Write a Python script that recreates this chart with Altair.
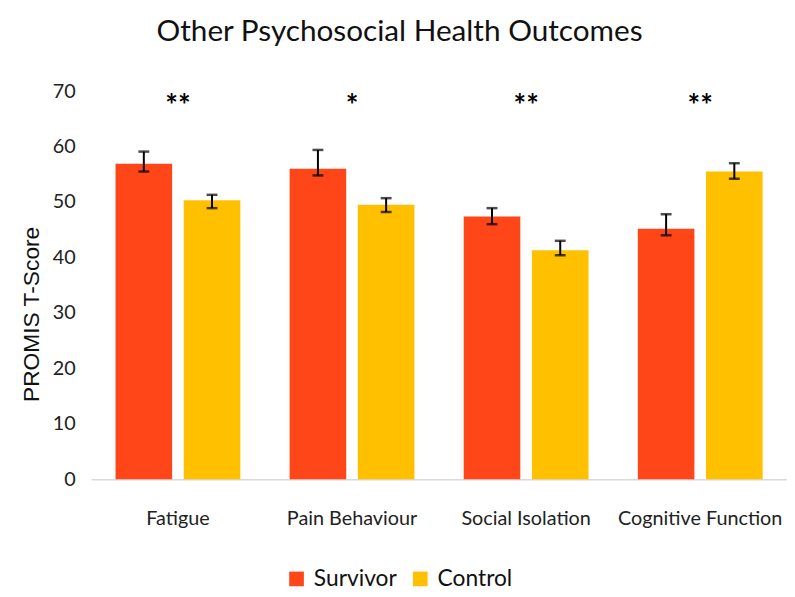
import altair as alt
import pandas as pd

categories = ["Fatigue", "Pain Behaviour", "Social Isolation", "Cognitive Function"]
groups = ["Survivor", "Control"]
survivor = [56.9, 56.0, 47.4, 45.2]
survivor_lo = [55.5, 54.8, 46.0, 44.0]
survivor_hi = [59.1, 59.4, 48.9, 47.8]
control = [50.3, 49.5, 41.3, 55.5]
control_lo = [48.9, 48.2, 40.4, 54.2]
control_hi = [51.3, 50.7, 43.0, 57.0]
significance = ["**", "*", "**", "**"]
sig_y = [67.1, 67.1, 67.1, 67.1]
colors = ["#FF4619", "#FFC000"]

rows = []
for i, c in enumerate(categories):
    rows.append({"cat": c, "group": "Survivor", "value": survivor[i], "lo": survivor_lo[i], "hi": survivor_hi[i]})
    rows.append({"cat": c, "group": "Control", "value": control[i], "lo": control_lo[i], "hi": control_hi[i]})
df = pd.DataFrame(rows)
sig_df = pd.DataFrame({"cat": categories, "sig": significance, "y": sig_y})

FONT = "Lato"

x_enc = alt.X(
    "cat:N",
    sort=categories,
    scale=alt.Scale(paddingInner=0.283, paddingOuter=0.14),
    axis=alt.Axis(
        title=None, labelAngle=0, labelFontSize=20, labelFont=FONT, labelColor="#222222",
        labelPadding=30, ticks=False, domain=True, domainColor="#d9d9d9", domainWidth=1.5,
    ),
)
xoff = alt.XOffset("group:N", sort=groups, scale=alt.Scale(paddingInner=0.17))
y_scale = alt.Scale(domain=[0, 70], nice=False)
y_axis = alt.Axis(
    title="PROMIS T-Score", titleFont="Liberation Sans", titleFontSize=23, titleFontWeight="normal",
    titleColor="#111111", titleAngle=-90, titleX=-60, titleY=225, titleAlign="center", titleBaseline="middle",
    values=list(range(0, 71, 10)), labelFontSize=20, labelFont=FONT, labelColor="#222222",
    labelPadding=16, ticks=False, domain=False, grid=False,
)

base = alt.Chart(df).encode(x=x_enc, xOffset=xoff)

bars = base.mark_bar().encode(
    y=alt.Y("value:Q", scale=y_scale, axis=y_axis),
    color=alt.Color(
        "group:N", sort=groups, scale=alt.Scale(domain=groups, range=colors),
        legend=alt.Legend(
            title=None, orient="none", legendX=196, legendY=481, direction="horizontal",
            symbolType="square", symbolSize=220, symbolStrokeWidth=0, labelFontSize=23, labelFont=FONT,
            labelColor="#111111", labelOffset=6, columnPadding=12,
        ),
    ),
)

rules = base.mark_rule(color="black", strokeWidth=2).encode(y="lo:Q", y2="hi:Q")
cap_hi = base.mark_tick(color="black", orient="horizontal", size=11, thickness=2.5).encode(y="hi:Q")
cap_lo = base.mark_tick(color="black", orient="horizontal", size=11, thickness=2.5).encode(y="lo:Q")

stars = alt.Chart(sig_df).mark_text(fontSize=30, font=FONT, fontWeight="bold", color="black", baseline="middle").encode(
    x=alt.X("cat:N", sort=categories), y=alt.Y("y:Q", scale=y_scale), text="sig:N"
)

chart = alt.layer(bars, rules, cap_hi, cap_lo, stars).properties(
    width=703,
    height=392,
    title=alt.TitleParams(
        "Other Psychosocial Health Outcomes", font=FONT, fontSize=30, fontWeight="normal",
        color="#111111", anchor="middle", dx=-40, offset=35,
    ),
    autosize=alt.AutoSizeParams(type="none"),
    padding={"left": 84, "top": 81, "right": 0, "bottom": 116},
    background="white",
).configure_view(stroke=None)

chart.save("out.html", embed_options={"renderer": "svg", "actions": False})
